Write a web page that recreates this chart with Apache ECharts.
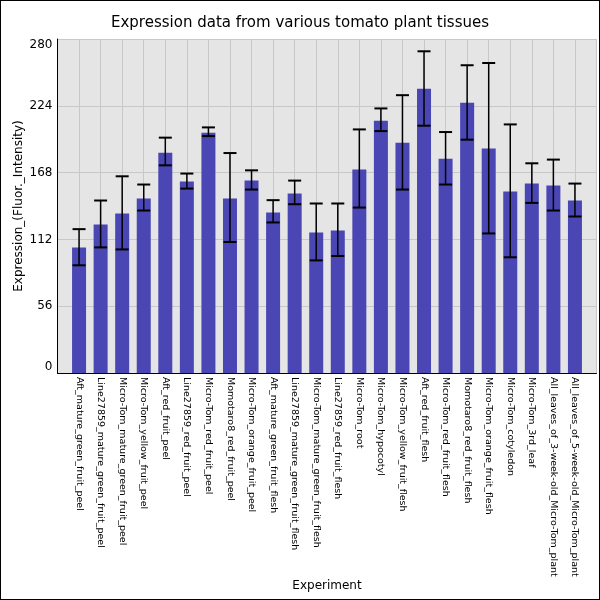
<!DOCTYPE html>
<html>
<head>
<meta charset="utf-8">
<script src="https://cdn.jsdelivr.net/npm/echarts@6/dist/echarts.min.js"></script>
<style>
  html, body { margin: 0; padding: 0; background: #fff; }
  #main { width: 600px; height: 600px; box-sizing: border-box; border: 1px solid #000; }
</style>
</head>
<body>
<div id="main"></div>
<script>
// tissue names on the x axis
var categories = [
  'Aft_mature_green_fruit_peel', 'Line27859_mature_green_fruit_peel', 'Micro-Tom_mature_green_fruit_peel',
  'Micro-Tom_yellow_fruit_peel', 'Aft_red_fruit_peel', 'Line27859_red_fruit_peel', 'Micro-Tom_red_fruit_peel',
  'Momotaro8_red_fruit_peel', 'Micro-Tom_orange_fruit_peel', 'Aft_mature_green_fruit_flesh',
  'Line27859_mature_green_fruit_flesh', 'Micro-Tom_mature_green_fruit_flesh', 'Line27859_red_fruit_flesh',
  'Micro-Tom_root', 'Micro-Tom_hypocotyl', 'Micro-Tom_yellow_fruit_flesh', 'Aft_red_fruit_flesh',
  'Micro-Tom_red_fruit_flesh', 'Momotaro8_red_fruit_flesh', 'Micro-Tom_orange_fruit_flesh',
  'Micro-Tom_cotyledon', 'Micro-Tom_3rd_leaf', 'All_leaves_of_3-week-old_Micro-Tom_plant',
  'All_leaves_of_5-week-old_Micro-Tom_plant'
];
// mean expression
var values = [105.3, 124.5, 133.7, 146.3, 184.7, 160.5, 201.4, 146.3, 161.3, 134.6, 150.4, 117.8,
              119.5, 170.5, 211.5, 193.1, 238.2, 179.7, 226.5, 188.1, 152.1, 158.8, 157.1, 144.6];
// error bar ends
var errLow  = [90.3, 105.3, 103.6, 136.2, 174.1, 154.6, 198.6, 109.8, 153.8, 126.2, 141.5, 94.4,
               98.1, 138.7, 202.8, 153.8, 207.3, 158.0, 195.6, 117.0, 97.0, 142.6, 136.2, 131.2];
var errHigh = [120.6, 144.6, 164.9, 158.0, 197.3, 167.2, 205.9, 184.4, 169.9, 144.9, 161.3, 142.1,
               142.1, 204.2, 221.8, 232.9, 269.7, 202.0, 258.0, 259.9, 208.4, 175.8, 178.9, 158.8];
var yTicks = [0, 56, 112, 168, 224, 280];

// one empty slot at each end, like the original plot
var axisCats = [''].concat(categories, ['']);
var barData = ['-'].concat(values, ['-']);
var errData = [];
for (var i = 0; i < values.length; i++) {
  errData.push([i + 1, errLow[i], errHigh[i]]);
}

var myChart = echarts.init(document.getElementById('main'));

var option = {
  animation: false,
  title: {
    text: 'Expression data from various tomato plant tissues',
    left: 'center',
    top: 10,
    textStyle: { fontFamily: 'DejaVu Sans', fontSize: 15, fontWeight: 'normal', color: '#000' }
  },
  grid: {
    left: 56.5, right: 2.5, top: 38, bottom: 226,
    containLabel: false, outerBoundsMode: 'none',
    show: true, backgroundColor: '#e5e5e5', borderWidth: 0
  },
  xAxis: {
    type: 'category',
    data: axisCats,
    boundaryGap: false,
    name: 'Experiment',
    nameLocation: 'middle',
    nameGap: 207,
    nameMoveOverlap: false,
    nameTextStyle: { fontFamily: 'DejaVu Sans', fontSize: 12, color: '#000' },
    axisLine: { lineStyle: { color: '#000', width: 1 } },
    axisTick: { show: false },
    axisLabel: {
      interval: 0, rotate: -90, margin: 4,
      fontFamily: 'DejaVu Sans', fontSize: 9.5, color: '#000'
    },
    splitLine: { show: true, interval: 0, lineStyle: { color: '#c8c8c8', width: 1 } }
  },
  yAxis: {
    type: 'value',
    min: yTicks[0],
    max: yTicks[yTicks.length - 1],
    interval: yTicks[1] - yTicks[0],
    name: 'Expression_(Fluor._Intensity)',
    nameLocation: 'middle',
    nameGap: 33,
    nameMoveOverlap: false,
    nameTextStyle: { fontFamily: 'DejaVu Sans', fontSize: 12, color: '#000' },
    axisLine: { show: true, lineStyle: { color: '#000', width: 1 } },
    axisTick: { show: false },
    axisLabel: {
      margin: 5, fontFamily: 'DejaVu Sans', fontSize: 12, color: '#000',
      verticalAlignMinLabel: 'bottom', verticalAlignMaxLabel: 'top'
    },
    splitLine: { lineStyle: { color: '#c8c8c8', width: 1 } }
  },
  series: [{
    type: 'bar',
    data: barData,
    barWidth: 14,
    itemStyle: { color: '#4a46b3' },
    z: 2
  }, {
    type: 'custom',
    data: errData,
    z: 3,
    renderItem: function (params, api) {
      var x = api.value(0);
      var lo = api.coord([x, api.value(1)]);
      var hi = api.coord([x, api.value(2)]);
      var half = 6.5;
      var st = { stroke: '#000', lineWidth: 1.5 };
      var capSt = { stroke: '#000', lineWidth: 2 };
      return {
        type: 'group',
        children: [
          { type: 'line', shape: { x1: lo[0], y1: lo[1], x2: hi[0], y2: hi[1] }, style: st },
          { type: 'line', shape: { x1: lo[0] - half, y1: lo[1], x2: lo[0] + half, y2: lo[1] }, style: capSt },
          { type: 'line', shape: { x1: hi[0] - half, y1: hi[1], x2: hi[0] + half, y2: hi[1] }, style: capSt }
        ]
      };
    }
  }]
};

myChart.setOption(option);
</script>
</body>
</html>
